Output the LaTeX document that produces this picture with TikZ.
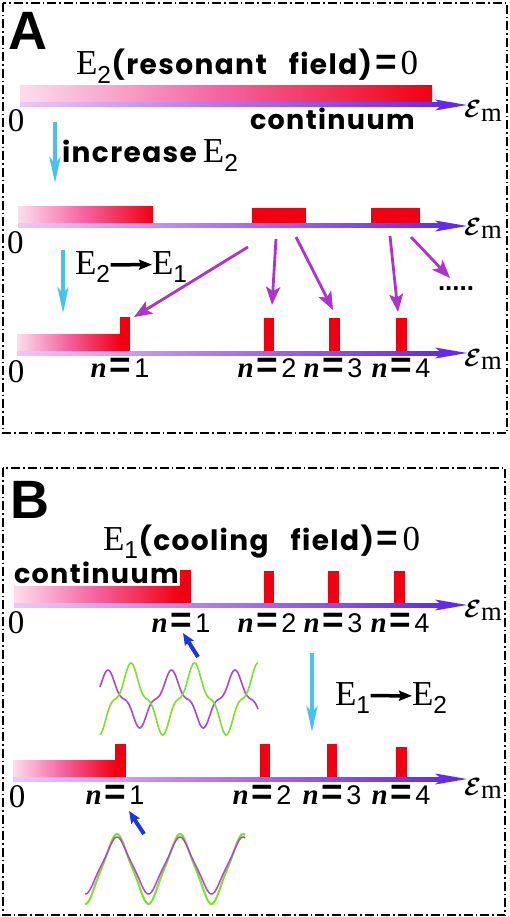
\documentclass[tikz,border=0pt]{standalone}
\usepackage{amsmath}
\usepackage{fontspec}
\setmainfont{Liberation Serif}
\newfontfamily\sansf{Liberation Sans}
\newfontfamily\comic{Poppins}[LetterSpace=5]
\usetikzlibrary{arrows.meta}
\definecolor{barred}{HTML}{F20010}
\definecolor{barpink}{HTML}{FDDDED}
\definecolor{barmid}{HTML}{F5609E}
\definecolor{axlight}{HTML}{EBC8F8}
\definecolor{axmid}{HTML}{B070F0}
\definecolor{axdark}{HTML}{6428F0}
\definecolor{arrpurple}{HTML}{B030D0}
\definecolor{lblue}{HTML}{45C3F0}
\definecolor{dblue}{HTML}{1838E0}
\definecolor{wpurple}{HTML}{A848D8}
\definecolor{wgreen}{HTML}{80E028}
\tikzset{
 lab/.style={inner sep=0pt, outer sep=0pt},
 zerolab/.style={lab, anchor=base west, font=\fontsize{33}{33}\selectfont},
 emlab/.style={lab, anchor=base west, font=\fontsize{38}{38}\selectfont},
 nlabel/.style={lab, anchor=base},
 serifE/.style={lab, anchor=base west, font=\fontsize{35}{35}\selectfont},
 comictext/.style={lab, anchor=base west, font=\comic\bfseries\fontsize{27}{27}\selectfont},
 panel/.style={line width=1.3pt, dash pattern=on 9pt off 3pt on 1.5pt off 3pt},
 bluearr/.style={lblue, line width=4pt, -{Stealth[length=26pt,width=11pt,inset=7pt]}},
 purparr/.style={arrpurple, line width=2.8pt, -{Stealth[length=18pt,width=14pt,inset=4pt]}},
 darkarr/.style={dblue, line width=4pt, -{Stealth[length=12pt,width=10pt,inset=2pt]}},
 blackarr/.style={black, line width=3.5pt, -{Stealth[length=13pt,width=10pt,inset=2pt]}},
 redblock/.style={fill=barred},
 gradbar/.style={left color=barpink, right color=barred, middle color=barmid},
}
\newcommand\drawaxis[4]{% name, x start, axis y, label baseline
  \shade[left color=axlight, right color=axdark, middle color=axmid] (#2,#3-2) rectangle (444,#3+2);
  \fill[axdark] (467,#3) -- (435,#3-5.5) -- (442,#3) -- (435,#3+5.5) -- cycle;
  \node[emlab] (#1) at (464,#4) {$\boldsymbol{\mathcal{E}}_{\mathrm{m}}$};
}
\newcommand\bigeq{{\sansf\bfseries\fontsize{37}{37}\selectfont =}}
\newcommand\nlab[1]{{\fontsize{29}{29}\selectfont\bfseries\itshape n}\kern3pt\bigeq\kern3pt{\sansf\fontsize{27}{27}\selectfont #1}}
\newcommand\comicbig[1]{{\comic\bfseries\fontsize{28}{28}\selectfont #1}}
\begin{document}
\begin{tikzpicture}[x=1pt,y=-1pt]
\useasboundingbox (0,0) rectangle (510,917);
\fill[white] (0,0) rectangle (510,917);
\draw[panel] (3,3) rectangle (507,433);
\draw[panel] (3,468) rectangle (505,915);

% ---------------- Panel A ----------------
\node[lab, anchor=base west, font=\sansf\bfseries\fontsize{54}{54}\selectfont] (labA) at (9,50) {A};
\node[serifE] (titleA) at (76,75) {E\textsubscript{\sansf 2}\comicbig{(resonant\hspace{22pt}field)}\kern3pt\bigeq\kern4pt 0};

% row 1
\shade[gradbar] (20,86) rectangle (432,105);
\drawaxis{emA1}{20}{105}{118}
\node[zerolab] (zeroA1) at (8,132) {0};
\node[comictext] (contA) at (250,130) {continuum};

\coordinate (ba1s) at (55,122);
\coordinate (ba1e) at (55,183);
\draw[bluearr] (ba1s) -- (ba1e);
\node[lab, anchor=base west, font=\fontsize{35}{35}\selectfont] (incA) at (62,163) {\comicbig{increase}\hspace{6pt}E\textsubscript{\sansf 2}};

% row 2
\shade[gradbar] (18,207) rectangle (153,226);
\fill[redblock] (252,208) rectangle (306,226);
\fill[redblock] (371,208) rectangle (420,226);
\drawaxis{emA2}{18}{226}{235}
\node[zerolab] (zeroA2) at (7,253) {0};

\coordinate (ba2s) at (63,250);
\coordinate (ba2e) at (63,313);
\draw[bluearr] (ba2s) -- (ba2e);
\node[serifE] (e2a) at (75,274) {E\textsubscript{\sansf 2}};
\node[serifE] (e1a) at (152,274) {E\textsubscript{\sansf 1}};
\draw[blackarr] ([yshift=2pt]e2a.east) -- ([yshift=2pt]e1a.west);

% purple arrows
\coordinate (pa1s) at (248,247); \coordinate (pa1e) at (134,317);
\coordinate (pa2s) at (276,239); \coordinate (pa2e) at (272,305);
\coordinate (pa3s) at (296,237); \coordinate (pa3e) at (333,310);
\coordinate (pa4s) at (390,236); \coordinate (pa4e) at (398,312);
\coordinate (pa5s) at (411,237); \coordinate (pa5e) at (450,278);
\foreach \i in {1,...,5} \draw[purparr] (pa\i s) -- (pa\i e);
\node[lab, anchor=base west, font=\sansf\bfseries\fontsize{26}{26}\selectfont] (dotsA) at (438,290) {.....};

% row 3
\shade[gradbar] (17,334) rectangle (120,353);
\fill[redblock] (120,317) rectangle (130,353);
\fill[redblock] (264,318) rectangle (274,353);
\fill[redblock] (329,318) rectangle (340,353);
\fill[redblock] (396,318) rectangle (407,353);
\drawaxis{emA3}{17}{353}{366}
\node[zerolab] (zeroA3) at (8,382) {0};
\node[nlabel] (nA1) at (120,377) {\nlab{1}};
\node[nlabel] (nA2) at (267,377) {\nlab{2}};
\node[nlabel] (nA3) at (333,377) {\nlab{3}};
\node[nlabel] (nA4) at (401,377) {\nlab{4}};

% ---------------- Panel B ----------------
\node[lab, anchor=base west, font=\sansf\bfseries\fontsize{54}{54}\selectfont] (labB) at (10,518) {B};
\node[serifE] (titleB) at (103,550) {E\textsubscript{\sansf 1}\comicbig{(cooling\hspace{22pt}field)}\kern3pt\bigeq\kern4pt 0};
\node[comictext] (contB) at (14,583) {continuum};

% row B1
\shade[gradbar] (14,586) rectangle (180,605);
\fill[redblock] (180,570) rectangle (191,605);
\fill[redblock] (264,571) rectangle (274,605);
\fill[redblock] (328,571) rectangle (339,605);
\fill[redblock] (394,571) rectangle (405,605);
\drawaxis{emB1}{14}{605}{617}
\node[zerolab] (zeroB1) at (8,633) {0};
\node[nlabel] (nB1) at (181,632) {\nlab{1}};
\node[nlabel] (nB2) at (267,632) {\nlab{2}};
\node[nlabel] (nB3) at (333,632) {\nlab{3}};
\node[nlabel] (nB4) at (400,632) {\nlab{4}};

\coordinate (db1s) at (198,657); \coordinate (db1e) at (183,633);
\draw[darkarr] (db1s) -- (db1e);

% waves 1
\draw[wpurple, line width=1.6pt] plot[domain=100:258, samples=160, smooth]
  (\x, {699-29*(sin(5.6693*(\x-108)+90)-0.25*sin(3*(5.6693*(\x-108)+90)))/1.25});
\draw[wgreen, line width=1.6pt] plot[domain=100:258, samples=160, smooth]
  (\x, {699-36*(sin(5.6693*(\x-131)+90)-0.25*sin(3*(5.6693*(\x-131)+90)))/1.25});

% E1 -> E2
\coordinate (ba3s) at (312,653);
\coordinate (ba3e) at (312,732);
\draw[bluearr] (ba3s) -- (ba3e);
\node[serifE] (e1b) at (335,705) {E\textsubscript{\sansf 1}};
\node[serifE] (e2b) at (412,705) {E\textsubscript{\sansf 2}};
\draw[blackarr] ([yshift=2pt]e1b.east) -- ([yshift=2pt]e2b.west);

% row B2
\shade[gradbar] (13,760) rectangle (115,779);
\fill[redblock] (115,744) rectangle (126,779);
\fill[redblock] (260,744) rectangle (270,779);
\fill[redblock] (327,744) rectangle (337,779);
\fill[redblock] (396,747) rectangle (407,779);
\drawaxis{emB2}{13}{779}{795}
\node[zerolab] (zeroB2) at (9,807) {0};
\node[nlabel] (nC1) at (115,804) {\nlab{1}};
\node[nlabel] (nC2) at (262,804) {\nlab{2}};
\node[nlabel] (nC3) at (332,804) {\nlab{3}};
\node[nlabel] (nC4) at (401,804) {\nlab{4}};

\coordinate (db2s) at (144,834); \coordinate (db2e) at (129,811);
\draw[darkarr] (db2s) -- (db2e);

% waves 2
\draw[wgreen, line width=2pt] plot[domain=85:245, samples=160, smooth]
  (\x, {869-35*(sin(5.7143*(\x-117)+90)-0.08*sin(3*(5.7143*(\x-117)+90)))/1.08});
\draw[wpurple, line width=1.5pt] plot[domain=85:245, samples=160, smooth]
  (\x, {865.5-28.5*(sin(5.7143*(\x-117)+90)-0.08*sin(3*(5.7143*(\x-117)+90)))/1.08});
\end{tikzpicture}
\end{document}
